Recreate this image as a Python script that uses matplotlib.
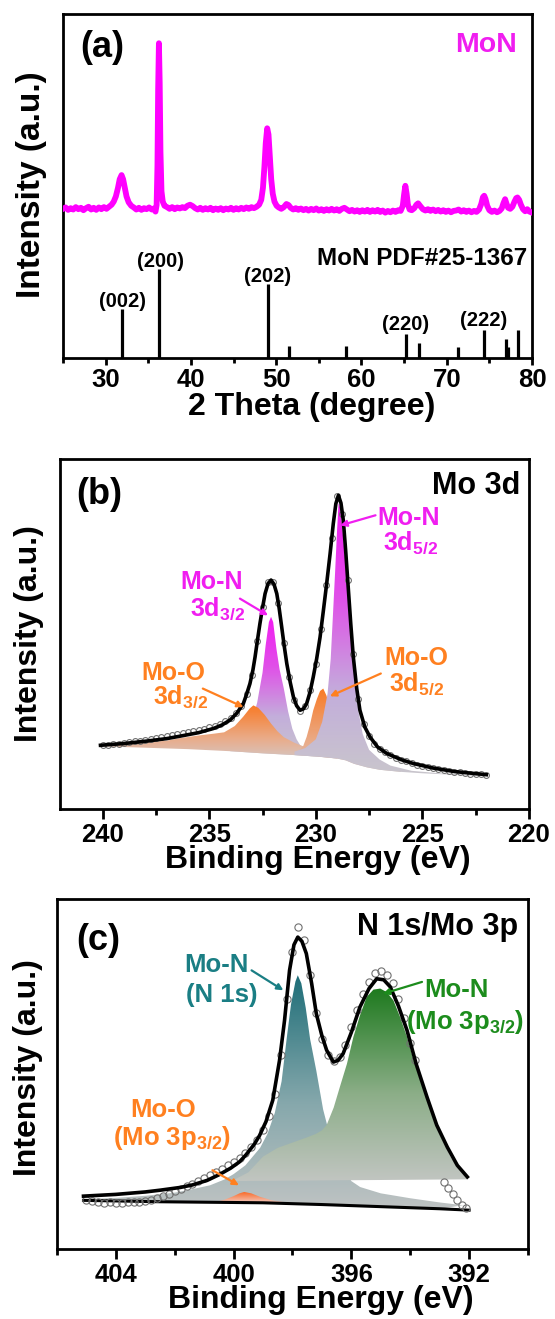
import numpy as np
import matplotlib
matplotlib.use('Agg')
import matplotlib.pyplot as plt
from matplotlib.patches import Polygon
from matplotlib.colors import LinearSegmentedColormap
from matplotlib.ticker import MultipleLocator

plt.rcParams['font.family'] = ['Liberation Sans', 'DejaVu Sans']
plt.rcParams['font.weight'] = 'bold'
plt.rcParams['axes.labelweight'] = 'bold'
plt.rcParams['mathtext.fontset'] = 'custom'
plt.rcParams['mathtext.rm'] = 'Liberation Sans:bold'
plt.rcParams['mathtext.it'] = 'Liberation Sans:bold'
plt.rcParams['mathtext.bf'] = 'Liberation Sans:bold'
plt.rcParams['mathtext.sf'] = 'Liberation Sans:bold'

# ---------------- (a) XRD data ----------------
xrd_2theta = [25.0, 25.3, 25.6, 25.9, 26.2, 26.5, 26.8, 27.1, 27.4, 27.7, 28.0, 28.3, 28.6, 28.9,
              29.2, 29.5, 29.8, 30.1, 30.4, 30.7, 30.95, 31.2, 31.45, 31.65, 31.87, 32.05, 32.25,
              32.45, 32.7, 33.0, 33.3, 33.6, 33.9, 34.2, 34.5, 34.8, 35.1, 35.4, 35.65, 35.85,
              35.98, 36.08, 36.16, 36.25, 36.34, 36.43, 36.55, 36.7, 36.9, 37.2, 37.5, 37.8,
              38.1, 38.4, 38.7, 39.0, 39.3, 39.6, 39.9, 40.2, 40.5, 40.8, 41.1, 41.4, 41.7, 42.0,
              42.3, 42.6, 42.9, 43.2, 43.5, 43.8, 44.1, 44.4, 44.7, 45.0, 45.3, 45.6, 45.9, 46.2,
              46.5, 46.8, 47.1, 47.4, 47.7, 48.0, 48.25, 48.45, 48.62, 48.78, 48.95, 49.1, 49.25,
              49.42, 49.6, 49.8, 50.05, 50.3, 50.6, 50.9, 51.2, 51.45, 51.7, 52.0, 52.3, 52.6,
              52.9, 53.2, 53.5, 53.8, 54.1, 54.4, 54.7, 55.0, 55.3, 55.6, 55.9, 56.2, 56.5, 56.8,
              57.1, 57.4, 57.7, 58.0, 58.3, 58.6, 58.9, 59.2, 59.5, 59.8, 60.1, 60.4, 60.7, 61.0,
              61.3, 61.6, 61.9, 62.2, 62.5, 62.8, 63.1, 63.4, 63.7, 64.0, 64.3, 64.6, 64.85, 65.0,
              65.15, 65.3, 65.45, 65.65, 65.9, 66.2, 66.45, 66.65, 66.9, 67.2, 67.5, 67.8, 68.1,
              68.4, 68.7, 69.0, 69.3, 69.6, 69.9, 70.2, 70.5, 70.8, 71.1, 71.4, 71.7, 72.0, 72.3,
              72.6, 72.9, 73.2, 73.5, 73.8, 74.05, 74.25, 74.4, 74.55, 74.75, 75.0, 75.3, 75.6,
              75.9, 76.2, 76.45, 76.65, 76.85, 77.0, 77.2, 77.45, 77.7, 77.95, 78.15, 78.3, 78.5,
              78.7, 78.95, 79.2, 79.45, 79.7, 80.0]
xrd_int = [43.4, 43.8, 43.1, 43.6, 43.2, 43.9, 43.3, 43.7, 43.0, 43.6, 44.0, 43.2, 43.7, 43.1,
           43.8, 43.3, 43.9, 43.4, 44.0, 44.6, 45.5, 47.0, 49.5, 52.0, 53.2, 52.0, 49.5,
           47.0, 45.3, 44.3, 43.8, 43.2, 43.7, 43.1, 43.6, 43.3, 43.8, 43.2, 43.5, 42.6,
           44.5, 56.0, 78.0, 91.5, 80.0, 60.0, 48.5, 45.5, 44.3, 43.9, 43.4, 43.9,
           43.3, 43.8, 43.5, 43.9, 43.6, 44.3, 44.6, 44.2, 43.6, 43.2, 43.7, 43.1, 43.6, 43.2,
           43.7, 43.0, 43.5, 43.1, 43.6, 43.0, 43.5, 43.2, 43.7, 43.1, 43.6, 43.2, 43.7, 43.3,
           43.8, 43.4, 43.9, 43.6, 44.0, 44.6, 46.0, 49.5, 55.5, 62.5, 66.8, 65.0, 59.0,
           52.0, 47.8, 45.5, 44.3, 43.8, 43.4, 43.9, 44.8, 44.5, 43.7, 43.2, 43.6, 43.1,
           43.5, 43.0, 43.4, 42.9, 43.4, 43.0, 43.5, 42.9, 43.3, 42.8, 43.3, 42.9, 43.4, 42.9,
           43.3, 42.8, 43.4, 43.7, 43.2, 42.7, 43.1, 42.6, 43.0, 42.5, 43.0, 42.6, 43.1, 42.5,
           43.0, 42.6, 43.1, 42.5, 42.9, 42.3, 42.8, 42.4, 42.9, 42.5, 43.0, 42.8, 44.3, 47.5,
           50.1, 47.8, 44.6, 43.2, 43.0, 43.6, 44.6, 45.0, 44.2, 43.3, 42.9, 43.3, 42.8,
           43.2, 42.7, 43.1, 42.6, 43.0, 42.5, 42.9, 42.4, 42.8, 42.9, 43.2, 42.6, 43.0, 42.5,
           42.9, 42.4, 42.8, 42.5, 43.2, 44.8, 46.8, 47.2, 46.3, 44.3, 43.0, 42.5, 42.9,
           42.4, 42.8, 43.5, 45.0, 46.2, 45.0, 43.7, 43.4, 44.0, 45.5, 46.5, 46.7, 46.0,
           44.6, 43.3, 42.7, 43.3, 42.6, 42.3]

pdf_2theta = [31.95, 36.3, 49.1, 51.45, 58.15, 65.2, 66.75, 71.3, 74.35, 76.9, 77.2, 78.4]
pdf_int = [14.4, 25.8, 21.5, 3.5, 3.5, 6.9, 4.3, 3.2, 8.3, 5.5, 3.2, 8.3]
hkl_labels = ['(002)', '(200)', '(202)', '(220)', '(222)']
hkl_2theta = [31.98, 36.4, 49.04, 65.14, 74.33]
hkl_ypos = [14.8, 26.6, 22.2, 8.1, 9.4]

# ---------------- (b) Mo 3d data ----------------
b_data_E = [240.0, 239.75, 239.5, 239.25, 239.0, 238.75, 238.5, 238.25, 238.0, 237.75, 237.5,
            237.25, 237.0, 236.75, 236.5, 236.25, 236.0, 235.75, 235.5, 235.25, 235.0, 234.75,
            234.5, 234.25, 234.0, 233.75, 233.5, 233.25, 233.0, 232.75, 232.5, 232.25, 232.0,
            231.75, 231.5, 231.25, 231.0, 230.75, 230.5, 230.25, 230.0, 229.75, 229.5, 229.25,
            229.0, 228.75, 228.5, 228.25, 228.0, 227.75, 227.5, 227.25, 227.0, 226.75, 226.5,
            226.25, 226.0, 225.75, 225.5, 225.25, 225.0, 224.75, 224.5, 224.25, 224.0, 223.75,
            223.5, 223.25, 223.0, 222.75, 222.5, 222.25, 222.0]
b_data_I = [18.4, 18.5, 18.7, 18.8, 19.0, 19.2, 19.4, 19.6, 19.9, 20.2, 20.5,
            20.8, 21.0, 21.2, 21.5, 21.8, 22.0, 22.3, 22.6, 23.0, 23.4, 23.8,
            24.4, 25.2, 26.2, 27.6, 29.6, 33.0, 38.5, 48.0, 57.8, 64.8, 65.0,
            59.0, 47.5, 37.8, 31.2, 28.2, 29.5, 34.0, 41.5, 51.5, 64.0, 77.5,
            89.5, 84.5, 65.5, 44.5, 31.5, 24.5, 21.0, 18.8, 17.3, 16.3, 15.4,
            14.8, 14.2, 13.7, 13.2, 12.8, 12.4, 12.1, 11.8, 11.5, 11.2, 11.0,
            10.8, 10.6, 10.4, 10.2, 10.1, 10.0, 9.9]
b_fit_E = [240.1, 239.0, 237.93, 237.0, 236.37, 235.5, 234.8, 234.4, 234.02, 233.7, 233.4,
           233.25, 233.09, 232.95, 232.85, 232.74, 232.62, 232.5, 232.38, 232.24, 232.1, 231.96,
           231.83, 231.72, 231.6, 231.48, 231.36, 231.2, 231.05, 230.9, 230.74, 230.58, 230.43,
           230.27, 230.12, 229.96, 229.8, 229.65, 229.49, 229.33, 229.18, 229.06, 228.94, 228.82,
           228.71, 228.6, 228.48, 228.36, 228.24, 228.08, 227.93, 227.7, 227.46, 227.1, 226.68,
           226.0, 225.43, 224.5, 223.5, 222.0]
b_fit_I = [18.3, 18.8, 19.5, 20.2, 20.9, 21.9, 23.1, 24.1, 25.5, 27.5, 30.2,
           32.8, 35.9, 39.8, 43.5, 48.2, 53.1, 57.5, 61.6, 64.5, 65.5, 64.3,
           61.6, 57.5, 52.1, 46.6, 41.6, 36.3, 32.1, 29.6, 28.3, 28.7, 30.2,
           33.5, 37.8, 43.0, 49.2, 56.5, 64.5, 73.0, 81.6, 87.3, 89.7, 87.5,
           82.6, 74.0, 63.5, 53.0, 43.5, 34.5, 28.3, 23.5, 20.7, 17.8, 16.0,
           14.2, 13.1, 11.8, 10.8, 9.9]
b_bg_E = [240.1, 238.0, 236.0, 234.0, 232.5, 231.0, 229.8, 229.0, 228.6, 228.2, 227.6, 227.0,
          226.0, 225.0, 224.0, 222.0]
b_bg_I = [18.0, 17.6, 17.2, 16.6, 16.0, 15.5, 15.0, 14.5, 14.0, 13.0, 12.0, 11.3,
          10.7, 10.3, 10.0, 9.4]
b_moN52_E = [231.0, 230.5, 230.0, 229.7, 229.45, 229.3, 229.2, 229.1, 229.0, 228.93, 228.85,
             228.75, 228.6, 228.5, 228.35, 228.2, 228.0, 227.8, 227.5, 227.0, 226.5, 225.5,
             224.0, 222.0]
b_moN52_I = [16.5, 17.5, 20.0, 25.0, 33.0, 43.0, 55.0, 67.0, 80.0, 87.5, 86.0,
             80.0, 70.0, 61.0, 49.0, 38.0, 28.0, 21.5, 17.0, 14.2, 12.5, 11.0,
             10.2, 9.6]
b_moN32_E = [234.5, 233.5, 233.0, 232.75, 232.5, 232.35, 232.2, 232.1, 232.0, 231.85, 231.7,
             231.5, 231.3, 231.1, 230.9, 230.7, 230.4, 230.0, 229.0]
b_moN32_I = [17.5, 20.0, 25.0, 30.5, 39.0, 47.0, 53.5, 55.0, 53.5, 46.0, 40.0,
             34.5, 28.0, 23.0, 20.0, 18.0, 17.0, 16.2, 15.0]
b_moO32_E = [240.1, 238.5, 237.0, 236.4, 235.5, 234.8, 234.3, 233.8, 233.4, 233.1, 232.93,
             232.7, 232.4, 232.1, 231.8, 231.5, 231.0, 230.5, 230.0, 229.5]
b_moO32_I = [18.3, 18.9, 19.6, 20.3, 21.1, 21.6, 22.0, 23.8, 26.5, 28.8, 29.7,
             29.0, 27.0, 24.5, 22.3, 20.6, 19.0, 17.8, 16.6, 15.4]
b_moO52_E = [230.8, 230.59, 230.43, 230.28, 230.12, 229.95, 229.8, 229.65, 229.5, 229.3, 229.1,
             228.8, 228.4, 227.8, 227.0, 226.0]
b_moO52_I = [16.6, 18.1, 20.7, 24.0, 28.3, 31.5, 33.8, 34.5, 32.5, 28.0, 23.5,
             19.5, 16.5, 13.8, 11.8, 10.9]

# ---------------- (c) N 1s / Mo 3p data ----------------
c_data_E = [405.0, 404.8, 404.6, 404.4, 404.2, 404.0, 403.8, 403.6, 403.4, 403.2, 403.0, 402.8,
            402.6, 402.4, 402.2, 402.0, 401.8, 401.6, 401.4, 401.2, 401.0, 400.8, 400.6, 400.4,
            400.2, 400.0, 399.8, 399.6, 399.4, 399.2, 399.0, 398.8, 398.6, 398.4, 398.2, 398.0,
            397.8, 397.6, 397.4, 397.2, 397.0, 396.8, 396.6, 396.4, 396.2, 396.0, 395.8, 395.6,
            395.4, 395.2, 395.0, 394.8, 394.6, 394.4, 394.2, 394.0, 393.85, 392.85, 392.7,
            392.55, 392.4, 392.25, 392.1]
c_data_I = [14.2, 13.8, 13.5, 13.3, 13.4, 13.2, 13.3, 13.5, 13.4, 13.6, 13.9, 14.2,
            14.6, 15.2, 15.9, 16.6, 17.3, 18.0, 18.8, 19.6, 20.4, 21.2, 22.0, 23.0,
            24.0, 25.0, 26.2, 27.6, 29.2, 31.2, 34.0, 38.0, 44.5, 55.5, 71.5, 85.0,
            92.0, 88.5, 78.5, 67.5, 60.0, 55.5, 53.8, 55.0, 58.5, 63.5, 68.5, 73.0,
            76.5, 79.0, 79.5, 78.5, 76.0, 71.5, 66.0, 59.0, 54.0, 19.3, 17.5,
            15.8, 14.2, 12.8, 11.8]
c_fit_E = [405.1, 404.0, 403.0, 402.5, 401.8, 401.4, 400.9, 400.5, 400.1, 399.8, 399.58, 399.3,
           399.12, 398.9, 398.67, 398.44, 398.27, 398.1, 397.95, 397.82, 397.68, 397.53, 397.35,
           397.19, 397.0, 396.84, 396.61, 396.45, 396.28, 396.0, 395.71, 395.4, 395.14, 394.9,
           394.68, 394.4, 394.11, 393.8, 393.43, 393.1, 392.74, 392.4, 392.06]
c_fit_I = [15.2, 15.7, 16.4, 16.9, 17.7, 18.4, 19.7, 21.3, 23.2, 25.0, 27.0, 30.0,
           32.5, 36.5, 42.6, 54.0, 65.4, 79.7, 87.0, 89.2, 88.0, 84.5, 76.0,
           67.3, 61.0, 56.9, 53.5, 54.0, 55.9, 62.0, 69.2, 74.5, 77.3, 77.0,
           75.0, 69.5, 62.6, 53.0, 43.5, 35.5, 29.2, 24.0, 20.7]
c_bg_E = [405.1, 402.5, 399.0, 397.0, 395.0, 393.0, 392.0]
c_bg_I = [14.0, 13.6, 13.3, 12.8, 12.2, 11.6, 11.2]
c_n1s_E = [405.1, 404.0, 403.0, 402.0, 401.4, 400.8, 400.3, 400.0, 399.6, 399.1, 398.85, 398.6,
           398.37, 398.2, 398.05, 397.9, 397.82, 397.7, 397.55, 397.4, 397.19, 396.96, 396.7,
           396.4, 396.0, 395.7, 395.0, 394.0, 393.0, 392.2]
c_n1s_I = [14.3, 14.7, 15.3, 16.2, 17.2, 18.3, 20.0, 21.5, 24.0, 29.0, 33.0, 39.0,
           48.0, 60.0, 70.0, 76.5, 78.3, 76.0, 69.0, 60.0, 51.0, 40.0, 31.5,
           25.0, 19.5, 17.8, 16.0, 14.6, 13.4, 12.6]
c_mo3p_E = [400.0, 399.5, 399.0, 398.5, 398.0, 397.5, 397.2, 397.0, 396.84, 396.6, 396.39,
            396.15, 395.93, 395.7, 395.48, 395.25, 395.02, 394.8, 394.57, 394.35, 394.11, 393.9,
            393.66, 393.43, 393.2, 392.9, 392.63, 392.35, 392.12, 392.05]
c_mo3p_I = [19.8, 22.0, 26.5, 29.0, 30.5, 32.0, 33.0, 34.0, 35.5, 40.5, 46.4,
            53.0, 60.7, 67.0, 72.1, 74.2, 74.5, 73.5, 71.1, 66.5, 60.7, 54.5,
            48.3, 42.5, 36.9, 31.0, 26.4, 23.0, 20.7, 20.0]
c_mo3p_base_E = [400.0, 392.05]
c_mo3p_base_I = [19.5, 20.0]
c_moO_E = [400.6, 400.3, 400.0, 399.8, 399.64, 399.4, 399.1, 398.7, 398.2]
c_moO_I = [13.6, 14.2, 15.2, 16.0, 16.4, 16.0, 15.0, 14.0, 13.4]

# ---------------- styling ----------------
MAG = '#F01EF0'
ORG = '#FF8020'
TEAL = '#1A7E84'
GRN = '#1C8C1C'

MAG_STOPS = [(0.0, '#C9C6CC'), (0.3, '#C3AEDB'), (0.65, '#E050E8'), (1.0, '#F21CF2')]
ORG_STOPS = [(0.0, '#D7C3BC'), (0.35, '#E9AC8A'), (1.0, '#F97A26')]
TEAL_STOPS = [(0.0, '#BFC3C3'), (0.45, '#86A8AC'), (1.0, '#1E6E78')]
GRN_STOPS = [(0.0, '#C1C5C1'), (0.45, '#8CAE88'), (1.0, '#1E7A1E')]
ORGC_STOPS = [(0.0, '#F2CBC2'), (1.0, '#FA6A28')]


def grad_poly(ax, top_x, top_y, base_x, base_y, stops, z):
    xmin, xmax = min(top_x), max(top_x)
    pairs = [(bx, by) for bx, by in zip(base_x, base_y) if xmin <= bx <= xmax]
    pairs.sort(key=lambda p: p[0])  # ascending E
    verts = list(zip(top_x, top_y)) + pairs
    ymin = min([p[1] for p in pairs] + list(top_y))
    ymax = max(top_y)
    cmap = LinearSegmentedColormap.from_list('g', stops)
    grad = np.linspace(0, 1, 256).reshape(-1, 1)
    im = ax.imshow(grad, cmap=cmap, origin='lower', extent=(xmin, xmax, ymin, ymax),
                   aspect='auto', zorder=z, interpolation='bilinear')
    poly = Polygon(verts, closed=True, transform=ax.transData,
                   facecolor='none', edgecolor='none')
    ax.add_patch(poly)
    im.set_clip_path(poly)


def style_axis(ax, major, minor, ticklen=7, minorlen=4.5, pad=3):
    for s in ax.spines.values():
        s.set_linewidth(2.0)
    ax.set_yticks([])
    ax.xaxis.set_major_locator(MultipleLocator(major))
    ax.xaxis.set_minor_locator(MultipleLocator(minor))
    ax.tick_params(axis='x', which='major', direction='out', length=ticklen, width=2,
                   labelsize=18.5, pad=pad)
    ax.tick_params(axis='x', which='minor', direction='out', length=minorlen, width=2)
    ax.tick_params(top=False, right=False)


fig = plt.figure(figsize=(5.55, 13.19), dpi=100)

# ================= (a) =================
ax1 = fig.add_axes([0.1135, 0.7284, 0.8450, 0.2610])
ax1.plot(xrd_2theta, xrd_int, color='#FF00FF', lw=4.2, zorder=3, solid_joinstyle='round')
ax1.vlines(pdf_2theta, 0, pdf_int, color='black', lw=2.3, zorder=3)
for lab, xp, yp in zip(hkl_labels, hkl_2theta, hkl_ypos):
    ax1.text(xp, yp, lab, ha='center', va='baseline', fontsize=14.5, fontweight='bold')
ax1.text(79.4, 27.0, 'MoN PDF#25-1367', ha='right', va='baseline', fontsize=17.5,
         fontweight='bold')
ax1.text(0.967, 0.89, 'MoN', transform=ax1.transAxes, ha='right', va='baseline',
         fontsize=20.5, color=MAG, fontweight='bold')
ax1.text(0.037, 0.876, '(a)', transform=ax1.transAxes, ha='left', va='baseline',
         fontsize=26, fontweight='bold')
ax1.set_xlim(25, 80)
ax1.set_ylim(0, 100)
style_axis(ax1, 10, 5, ticklen=5, minorlen=3.5, pad=2)
ax1.set_xlabel('2 Theta (degree)', fontsize=23, fontweight='bold')
ax1.xaxis.set_label_coords(0.531, -0.098)
ax1.set_ylabel('Intensity (a.u.)', fontsize=24, fontweight='bold', va='center')
ax1.yaxis.set_label_coords(-0.067, 0.504)

# ================= (b) =================
ax2 = fig.add_axes([0.1081, 0.3864, 0.8450, 0.2654])
grad_poly(ax2, b_moN32_E, b_moN32_I, b_bg_E, b_bg_I, MAG_STOPS, 1)
grad_poly(ax2, b_moO32_E, b_moO32_I, b_bg_E, b_bg_I, ORG_STOPS, 2)
grad_poly(ax2, b_moO52_E, b_moO52_I, b_bg_E, b_bg_I, ORG_STOPS, 2.5)
grad_poly(ax2, b_moN52_E, b_moN52_I, b_bg_E, b_bg_I, MAG_STOPS, 3)
ax2.plot(b_data_E, b_data_I, 'o', ms=4.2, mfc='none', mec='#707070', mew=0.8, zorder=5)
ax2.plot(b_fit_E, b_fit_I, color='black', lw=2.6, zorder=6)

b_texts = [('Mo-N', 225.63, 81.2, MAG), ('3d$_{5/2}$', 225.55, 74.0, MAG),
           ('Mo-N', 234.89, 63.0, MAG), ('3d$_{3/2}$', 234.61, 55.4, MAG),
           ('Mo-O', 236.67, 36.9, ORG), ('3d$_{3/2}$', 236.37, 30.2, ORG),
           ('Mo-O', 225.29, 41.1, ORG), ('3d$_{5/2}$', 225.26, 34.0, ORG)]
for t, xp, yp, c in b_texts:
    ax2.text(xp, yp, t, ha='center', va='baseline', fontsize=18, color=c,
             fontweight='bold', zorder=8)
b_arrows = [((228.85, 81.1), (227.2, 84.0), MAG), ((232.24, 55.4), (233.56, 60.2), MAG),
            ((233.39, 29.2), (235.30, 34.5), ORG), ((229.34, 32.3), (226.95, 38.8), ORG)]
for head, tail, c in b_arrows:
    ax2.annotate('', xy=head, xytext=tail,
                 arrowprops=dict(arrowstyle='-|>', color=c, lw=1.6, mutation_scale=9,
                                 shrinkA=0, shrinkB=0), zorder=7)
ax2.text(0.981, 0.902, 'Mo 3d', transform=ax2.transAxes, ha='right', va='baseline',
         fontsize=22, fontweight='bold')
ax2.text(0.034, 0.873, '(b)', transform=ax2.transAxes, ha='left', va='baseline',
         fontsize=26, fontweight='bold')
ax2.set_xlim(242, 220)
ax2.set_ylim(0, 100)
style_axis(ax2, 5, 2.5)
ax2.set_xlabel('Binding Energy (eV)', fontsize=23, fontweight='bold')
ax2.xaxis.set_label_coords(0.549, -0.103)
ax2.set_ylabel('Intensity (a.u.)', fontsize=23, fontweight='bold', va='center')
ax2.yaxis.set_label_coords(-0.066, 0.503)

# ================= (c) =================
ax3 = fig.add_axes([0.1027, 0.0528, 0.8486, 0.2654])
grad_poly(ax3, c_n1s_E, c_n1s_I, c_bg_E, c_bg_I, TEAL_STOPS, 1)
grad_poly(ax3, c_mo3p_E, c_mo3p_I, c_mo3p_base_E, c_mo3p_base_I, GRN_STOPS, 2)
grad_poly(ax3, c_moO_E, c_moO_I, c_bg_E, c_bg_I, ORGC_STOPS, 3)
ax3.plot(c_bg_E, c_bg_I, color='black', lw=2.2, zorder=4)
ax3.plot(c_data_E, c_data_I, 'o', ms=5.2, mfc='none', mec='#707070', mew=0.8, zorder=5)
ax3.plot(c_fit_E, c_fit_I, color='black', lw=2.6, zorder=6)

c_texts = [('Mo-N', 400.6, 79.2, TEAL), ('(N 1s)', 400.42, 70.7, TEAL),
           ('Mo-N', 392.43, 72.1, GRN), ('(Mo 3p$_{3/2}$)', 392.12, 62.9, GRN),
           ('Mo-O', 402.38, 37.8, ORG), ('(Mo 3p$_{3/2}$)', 402.1, 29.8, ORG)]
for t, xp, yp, c in c_texts:
    ax3.text(xp, yp, t, ha='center', va='baseline', fontsize=18.5, color=c,
             fontweight='bold', zorder=8)
c_arrows = [((398.31, 74.0), (399.39, 79.7), TEAL), ((394.93, 73.0), (393.6, 76.4), GRN),
            ((399.82, 18.3), (400.72, 22.6), ORG)]
for head, tail, c in c_arrows:
    ax3.annotate('', xy=head, xytext=tail,
                 arrowprops=dict(arrowstyle='-|>', color=c, lw=1.6, mutation_scale=9,
                                 shrinkA=0, shrinkB=0), zorder=7)
ax3.text(0.98, 0.897, 'N 1s/Mo 3p', transform=ax3.transAxes, ha='right', va='baseline',
         fontsize=22, fontweight='bold')
ax3.text(0.04, 0.854, '(c)', transform=ax3.transAxes, ha='left', va='baseline',
         fontsize=26, fontweight='bold')
ax3.set_xlim(406, 390)
ax3.set_ylim(0, 100)
style_axis(ax3, 4, 2)
ax3.set_xlabel('Binding Energy (eV)', fontsize=23, fontweight='bold')
ax3.xaxis.set_label_coords(0.56, -0.103)
ax3.set_ylabel('Intensity (a.u.)', fontsize=23, fontweight='bold', va='center')
ax3.yaxis.set_label_coords(-0.061, 0.519)

fig.savefig('out.png', dpi=100)
